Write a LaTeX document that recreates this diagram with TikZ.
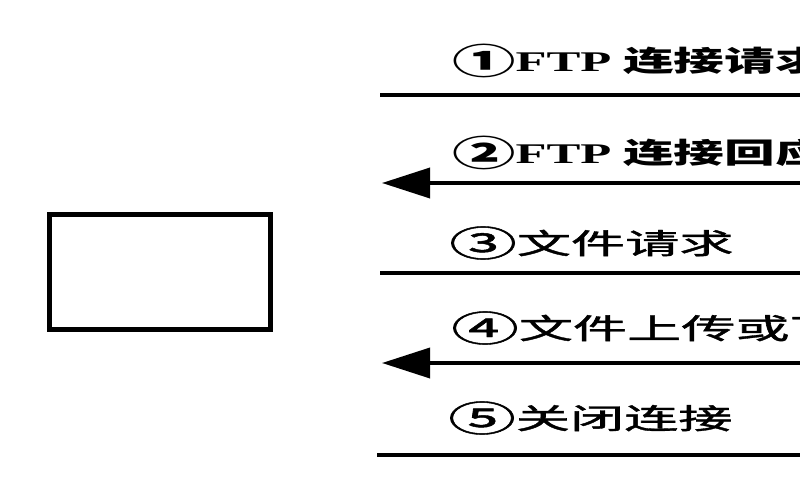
\documentclass[tikz,border=0pt]{standalone}
\usepackage{fontspec}
\newfontfamily\cjk{Noto Sans CJK SC}
\newfontfamily\cjkm{Noto Sans CJK SC}[FakeBold=1.2]
\newfontfamily\serifb{Liberation Serif}
\usetikzlibrary{arrows.meta}
\newcommand{\circd}[1]{\raisebox{-2.6pt}{\scalebox{1.25}{#1}}}
\tikzset{
  msgline/.style={line width=3.6pt},
  msgarrow/.style={line width=3.6pt,-{Triangle[length=48pt,width=30pt]}},
  label/.style={anchor=west,inner sep=0pt,font=\fontsize{28.5}{30}\selectfont},
  hostbox/.style={draw,line width=5pt,minimum width=221pt,minimum height=115pt,inner sep=0pt}
}
\begin{document}
\begin{tikzpicture}[x=1pt,y=-1pt]
\useasboundingbox (0,0) rectangle (800,500);
\clip (0,0) rectangle (800,500);
\fill[white] (0,0) rectangle (800,500);
\node[hostbox] (host) at (160,272) {};
% line ends
\coordinate (l1a) at (380,95);  \coordinate (l1b) at (830,95);
\coordinate (l2a) at (382,183); \coordinate (l2b) at (830,183);
\coordinate (l3a) at (380,273); \coordinate (l3b) at (830,273);
\coordinate (l4a) at (382,363); \coordinate (l4b) at (830,363);
\coordinate (l5a) at (377,455); \coordinate (l5b) at (830,455);
\draw[msgline] (l1a) -- (l1b);
\draw[msgarrow] (l2b) -- (l2a);
\draw[msgline] (l3a) -- (l3b);
\draw[msgarrow] (l4b) -- (l4a);
\draw[msgline] (l5a) -- (l5b);
% labels
\node[label] (t1) at (452,61) {\scalebox{1.78}[1]{\cjk\bfseries \circd{①}{\serifb\bfseries FTP} 连接请求}};
\node[label] (t2) at (452,153) {\scalebox{1.78}[1]{\cjk\bfseries \circd{②}{\serifb\bfseries FTP} 连接回应}};
\node[label] (t3) at (449,243) {\scalebox{1.9}[1]{\cjkm \circd{③}文件请求}};
\node[label] (t4) at (451,328) {\scalebox{1.9}[1]{\cjkm \circd{④}文件上传或下载}};
\node[label] (t5) at (448,418) {\scalebox{1.9}[1]{\cjkm \circd{⑤}关闭连接}};
\end{tikzpicture}
\end{document}
